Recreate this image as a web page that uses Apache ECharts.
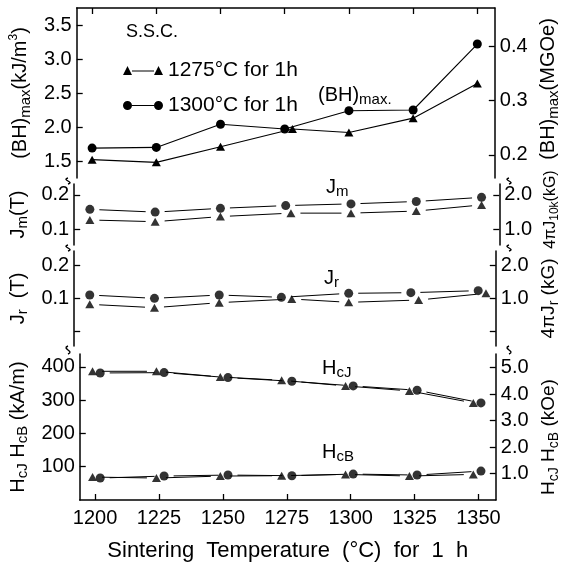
<!DOCTYPE html>
<html>
<head>
<meta charset="utf-8">
<script src="https://cdn.jsdelivr.net/npm/echarts@6/dist/echarts.min.js"></script>
<style>
  html, body { margin: 0; padding: 0; background: #fff; }
  #chart { width: 569px; height: 563px; }
</style>
</head>
<body>
<div id="chart"></div>
<script>
// Magnetic properties vs. sintering temperature, two S.S.C. treatments.
const temps = [1200, 1225, 1250, 1275, 1300, 1325, 1350];

// (BH)max, kJ/m^3
const bhTriX = [1200, 1225, 1250, 1278, 1300, 1325, 1350];
const bhTri  = [1.52, 1.48, 1.71, 1.97, 1.92, 2.13, 2.64];
const bhCirX = [1200, 1225, 1250, 1275, 1300, 1325, 1350];
const bhCir  = [1.69, 1.70, 2.04, 1.97, 2.24, 2.25, 3.22];

// Jm, T
const jmTriX = [1200, 1225, 1250, 1277, 1300, 1325, 1350];
const jmTri  = [0.127, 0.122, 0.137, 0.147, 0.147, 0.153, 0.171];
const jmCirX = [1200, 1225, 1250, 1275, 1300, 1325, 1350];
const jmCir  = [0.158, 0.150, 0.161, 0.169, 0.174, 0.181, 0.193];

// Jr, T
const jrTriX = [1200, 1225, 1250, 1278, 1300, 1327, 1353];
const jrTri  = [0.082, 0.072, 0.087, 0.098, 0.088, 0.095, 0.115];
const jrCirX = [1200, 1225, 1250, 1274, 1300, 1324, 1350];
const jrCir  = [0.110, 0.100, 0.110, 0.103, 0.115, 0.117, 0.123];

// HcJ and HcB, kA/m
const hcTriX  = [1199, 1224, 1249, 1273, 1298, 1323, 1348];
const hcCirX  = [1202, 1227, 1252, 1277, 1301, 1326, 1351];
const hcjTri  = [387, 387, 370, 360, 343, 328, 292];
const hcjCir  = [382, 383, 368, 357, 343, 330, 292];
const hcbTri  = [69, 66, 72, 73, 77, 72, 77];
const hcbCir  = [66, 72, 75, 73, 78, 75, 87];

// tick values
const xTicks      = [1200, 1225, 1250, 1275, 1300, 1325, 1350];
const bhTicks     = [1.5, 2.0, 2.5, 3.0, 3.5];
const bhMgoeTicks = [0.2, 0.3, 0.4];
const jmTicks     = [0.1, 0.2];
const jmKgTicks   = [1.0, 2.0];
const jrTicks     = [0.0, 0.1, 0.2];
const jrKgTicks   = [0.0, 1.0, 2.0];
const hcTicks     = [100, 200, 300, 400];
const hcKoeTicks  = [1, 2, 3, 4, 5];

const S1 = '1275°C for 1h';
const S2 = '1300°C for 1h';

const KJ_PER_MGOE = 7.958;
const KAM_PER_KOE = 79.577;

const FONT = '"Liberation Sans", Arial, sans-serif';
const INK = '#000';

// rich text styles: t = normal, s = subscript, p = superscript
function richOf(size) {
  return {
    t: { fontSize: size, fontFamily: FONT, color: INK, lineHeight: Math.round(size * 1.25) },
    s: { fontSize: Math.round(size * 0.74), fontFamily: FONT, color: INK, verticalAlign: 'bottom' },
    p: { fontSize: Math.round(size * 0.6), fontFamily: FONT, color: INK, verticalAlign: 'top' }
  };
}
const rich = richOf(20);

// panel layout (px)
const L = 68, R = 60;
const panels = [
  { top: 8,   height: 170 },
  { top: 184, height: 61 },
  { top: 251, height: 95 },
  { top: 354, height: 147 }
];

const ranges = [
  { min: 1.25,  max: 3.75 },
  { min: 0.054, max: 0.232 },
  { min: -0.043, max: 0.242 },
  { min: 0, max: 439 }
];

const fmt1 = v => (Math.abs(v) < 1e-9 ? '' : v.toFixed(1));

function yAxisDef(gi, pos, range, ticks, labelFmt, name, nameGap, nameSize, namePad) {
  return {
    type: 'value', gridIndex: gi, position: pos,
    min: range.min, max: range.max,
    axisLine: { show: true, lineStyle: { color: INK, width: 1.5 } },
    axisTick: { show: true, inside: true, length: 6, customValues: ticks, lineStyle: { color: INK, width: 1.3 } },
    axisLabel: { show: true, customValues: ticks, formatter: labelFmt, color: INK, fontFamily: FONT, fontSize: 20, margin: 5 },
    splitLine: { show: false },
    name: name, nameLocation: 'middle', nameRotate: 90, nameGap: nameGap,
    nameTextStyle: { rich: richOf(nameSize), color: INK, padding: namePad || 0 }
  };
}

const yAxes = [
  yAxisDef(0, 'left', ranges[0], bhTicks, v => v.toFixed(1),
    '{t|(BH)}{s|max}{t|(kJ/m}{p|3}{t|)}', 41, 20),
  yAxisDef(0, 'right', { min: ranges[0].min / KJ_PER_MGOE, max: ranges[0].max / KJ_PER_MGOE }, bhMgoeTicks, v => v.toFixed(1),
    '{t|(BH)}{s|max}{t|(MGOe)}', 37, 20, [0, 0, 0, 8]),
  yAxisDef(1, 'left', ranges[1], jmTicks, v => v.toFixed(1),
    '{t|J}{s|m}{t|(T)}', 41, 20),
  yAxisDef(1, 'right', { min: ranges[1].min * 10, max: ranges[1].max * 10 }, jmKgTicks, v => v.toFixed(1),
    '{t|4πJ}{s|10k}{t|(kG)}', 38, 16, [0, 0, 0, 10]),
  yAxisDef(2, 'left', ranges[2], jrTicks, fmt1,
    '{t|J}{s|r}{t|  (T)}', 41, 20),
  yAxisDef(2, 'right', { min: ranges[2].min * 10, max: ranges[2].max * 10 }, jrKgTicks, fmt1,
    '{t|4πJ}{s|r}{t| (kG)}', 37, 19),
  yAxisDef(3, 'left', ranges[3], hcTicks, v => String(v),
    '{t|H}{s|cJ}{t| H}{s|cB}{t| (kA/m)}', 41, 20),
  yAxisDef(3, 'right', { min: 0, max: ranges[3].max / KAM_PER_KOE }, hcKoeTicks, v => v.toFixed(1),
    '{t|H}{s|cJ}{t| H}{s|cB}{t| (kOe)}', 37, 19, [0, 20, 0, 0])
];

const xMin = 1194, xMax = 1356.8;
const xAxes = panels.map((p, gi) => ({
  type: 'value', gridIndex: gi, min: xMin, max: xMax,
  position: gi === 0 ? 'top' : 'bottom',
  show: gi === 0 || gi === 3,
  axisLine: { show: true, lineStyle: { color: INK, width: 1.5 } },
  axisTick: { show: true, inside: true, length: 6, customValues: xTicks, lineStyle: { color: INK, width: 1.3 } },
  axisLabel: { show: gi === 3, customValues: xTicks, formatter: v => String(v), color: INK, fontFamily: FONT, fontSize: 20, margin: 8 },
  splitLine: { show: false },
  name: gi === 3 ? 'Sintering  Temperature  (°C)  for  1  h' : '',
  nameLocation: 'middle', nameGap: 40,
  nameTextStyle: { color: INK, fontFamily: FONT, fontSize: 22 }
}));

const grids = panels.map(p => ({ left: L, right: R, top: p.top, height: p.height }));

function pairs(xs, ys) { return xs.map((x, i) => [x, ys[i]]); }

function curve(name, gi, xs, ys, symbol, size) {
  return {
    type: 'line', name: name, xAxisIndex: gi, yAxisIndex: gi * 2,
    data: pairs(xs, ys), symbol: symbol, symbolSize: size, showSymbol: true,
    lineStyle: { color: INK, width: 1.1 }, itemStyle: { color: INK },
    silent: true, animation: false, z: 3
  };
}

// segments that stop short of the markers at both ends
function gapLines(name, gi, xs, ys, gap) {
  const segs = [];
  for (let i = 0; i < xs.length - 1; i++) segs.push([xs[i], ys[i], xs[i + 1], ys[i + 1]]);
  return {
    type: 'custom', name: name, xAxisIndex: gi, yAxisIndex: gi * 2,
    data: segs, encode: { x: [0, 2], y: [1, 3] }, silent: true, animation: false, z: 2,
    renderItem: function (params, api) {
      const a = api.coord([api.value(0), api.value(1)]);
      const b = api.coord([api.value(2), api.value(3)]);
      const dx = b[0] - a[0], dy = b[1] - a[1];
      const len = Math.hypot(dx, dy) || 1;
      const ux = dx / len, uy = dy / len;
      return {
        type: 'line',
        shape: { x1: a[0] + ux * gap, y1: a[1] + uy * gap, x2: b[0] - ux * gap, y2: b[1] - uy * gap },
        style: { stroke: INK, lineWidth: 1.0 }
      };
    }
  };
}

function marks(name, gi, xs, ys, symbol, size) {
  return {
    type: 'scatter', name: name, xAxisIndex: gi, yAxisIndex: gi * 2,
    data: pairs(xs, ys), symbol: symbol, symbolSize: size,
    itemStyle: { color: INK }, silent: true, animation: false, z: 4
  };
}

const TRI = [9, 8], DOT = 9, GAP = 9.5;

const series = [
  curve(S1, 0, bhTriX, bhTri, 'triangle', TRI),
  curve(S2, 0, bhCirX, bhCir, 'circle', DOT),

  gapLines(S1, 1, jmTriX, jmTri, GAP), marks(S1, 1, jmTriX, jmTri, 'triangle', TRI),
  gapLines(S2, 1, jmCirX, jmCir, GAP), marks(S2, 1, jmCirX, jmCir, 'circle', DOT),

  gapLines(S1, 2, jrTriX, jrTri, GAP), marks(S1, 2, jrTriX, jrTri, 'triangle', TRI),
  gapLines(S2, 2, jrCirX, jrCir, GAP), marks(S2, 2, jrCirX, jrCir, 'circle', DOT),

  gapLines(S1, 3, hcTriX, hcjTri, GAP), marks(S1, 3, hcTriX, hcjTri, 'triangle', TRI),
  gapLines(S2, 3, hcCirX, hcjCir, GAP), marks(S2, 3, hcCirX, hcjCir, 'circle', DOT),
  gapLines(S1, 3, hcTriX, hcbTri, GAP), marks(S1, 3, hcTriX, hcbTri, 'triangle', TRI),
  gapLines(S2, 3, hcCirX, hcbCir, GAP), marks(S2, 3, hcCirX, hcbCir, 'circle', DOT)
];

// legend keys: marker – line – marker
const ICON_TRI = 'path://M0,9 L4.5,0 L9,9 Z M9,4.5 L31,4.5 L31,5.5 L9,5.5 Z M31,9 L35.5,0 L40,9 Z';
const ICON_DOT = 'path://M0,4.5 A4.5,4.5 0 1 1 9,4.5 A4.5,4.5 0 1 1 0,4.5 Z M9,4 L31,4 L31,5 L9,5 Z M31,4.5 A4.5,4.5 0 1 1 40,4.5 A4.5,4.5 0 1 1 31,4.5 Z';

// small break marks where the stacked axes meet
function breakMark(x, yTop, yBot) {
  const m = (yTop + yBot) / 2;
  return {
    type: 'bezierCurve', silent: true,
    shape: { x1: x, y1: yTop, cpx1: x - 7, cpy1: m - 1, cpx2: x + 7, cpy2: m + 1, x2: x, y2: yBot },
    style: { stroke: INK, lineWidth: 1.4, fill: null }
  };
}

const graphics = [];
for (let i = 0; i < panels.length - 1; i++) {
  const yTop = panels[i].top + panels[i].height;
  const yBot = panels[i + 1].top;
  graphics.push(breakMark(L, yTop, yBot));
  graphics.push(breakMark(569 - R, yTop, yBot));
}

function tag(x, y, text) {
  return {
    type: 'text', x: x, y: y, silent: true,
    style: { text: text, rich: rich, verticalAlign: 'middle', align: 'left', fill: INK }
  };
}
graphics.push(tag(318, 95, '{t|(BH)}{s|max.}'));
graphics.push(tag(326, 187, '{t|J}{s|m}'));
graphics.push(tag(324, 278, '{t|J}{s|r}'));
graphics.push(tag(322, 368, '{t|H}{s|cJ}'));
graphics.push(tag(322, 452, '{t|H}{s|cB}'));

const chart = echarts.init(document.getElementById('chart'), null, { renderer: 'canvas' });
chart.setOption({
  backgroundColor: '#fff',
  animation: false,
  title: {
    text: 'S.S.C.', left: 121, top: 18,
    textStyle: { color: INK, fontFamily: FONT, fontSize: 18, fontWeight: 'normal' }
  },
  legend: {
    orient: 'vertical', left: 118, top: 55, itemWidth: 40, itemHeight: 9, itemGap: 14,
    selectedMode: false,
    data: [{ name: S1, icon: ICON_TRI }, { name: S2, icon: ICON_DOT }],
    textStyle: { color: INK, fontFamily: FONT, fontSize: 21, lineHeight: 18 }
  },
  grid: grids,
  xAxis: xAxes,
  yAxis: yAxes,
  series: series,
  graphic: graphics
});
</script>
</body>
</html>
